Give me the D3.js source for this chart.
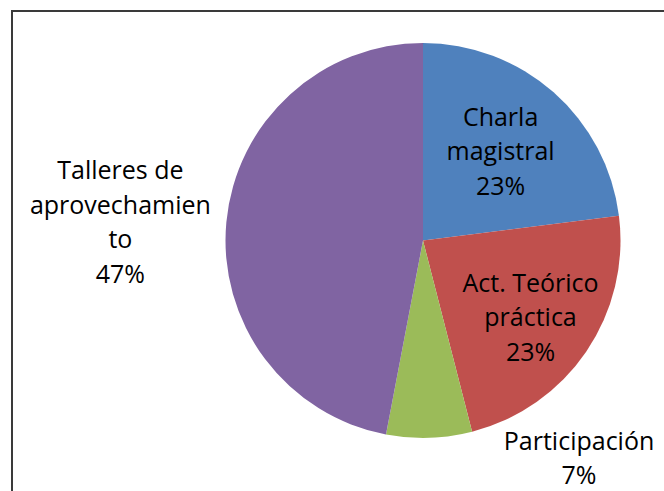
<!DOCTYPE html>
<html>
<head>
<meta charset="utf-8">
<script src="https://cdn.jsdelivr.net/npm/d3@7"></script>
<style>
  body { margin: 0; background: #fff; }
  svg { display: block; }
</style>
</head>
<body>
<svg id="pic" width="664" height="491"></svg>
<script>
// data
var categories = ["Charla magistral", "Act. Teórico práctica", "Participación", "Talleres de aprovechamiento"];
var percents = [23, 23, 7, 47];
var percentLabels = ["23%", "23%", "7%", "47%"];
var labelLines = [
  ["Charla", "magistral"],
  ["Act. Teórico", "práctica"],
  ["Participación"],
  ["Talleres de", "aprovechamien", "to"]
];
var colors = ["#4F81BD", "#C0504D", "#9BBB59", "#8064A2"];

var svg = d3.select("#pic");
var cx = 423, cy = 240.5, R = 197.5;

// chart border (right/bottom edges are off the picture)
svg.append("rect")
  .attr("x", 12).attr("y", 11)
  .attr("width", 700).attr("height", 600)
  .attr("fill", "none").attr("stroke", "#3a3a3a").attr("stroke-width", 2);

var pie = d3.pie().sort(null).value(function(d){ return d; });
var arcs = pie(percents);
var arc = d3.arc().innerRadius(0).outerRadius(R);

var g = svg.append("g").attr("transform", "translate(" + cx + "," + cy + ")");

g.selectAll("path").data(arcs).enter().append("path")
  .attr("d", arc)
  .attr("fill", function(d, i){ return colors[i]; });

// label placement: inside labels use centroid, outside ones pushed out
var inArc = d3.arc().innerRadius(R * 0.64).outerRadius(R * 0.64);
var outArc = d3.arc().innerRadius(R * 1.3).outerRadius(R * 1.3);
var outside = [false, false, true, true];
var shift = [[-6, 6], [3, 6], [148, -39], [-47, 6]];

var lineH = 34.5;
arcs.forEach(function(d, i){
  var c = outside[i] ? outArc.centroid(d) : inArc.centroid(d);
  var x = c[0] + shift[i][0];
  var lines = labelLines[i].concat([percentLabels[i]]);
  var y = c[1] + shift[i][1] - (lines.length - 1) * lineH / 2;
  var t = g.append("text")
    .attr("text-anchor", "middle")
    .attr("font-family", "'Open Sans', sans-serif")
    .attr("font-size", 25)
    .attr("fill", "#000");
  lines.forEach(function(s, k){
    t.append("tspan").attr("x", x).attr("y", y + k * lineH).attr("dy", "0.35em").text(s);
  });
});
</script>
</body>
</html>
